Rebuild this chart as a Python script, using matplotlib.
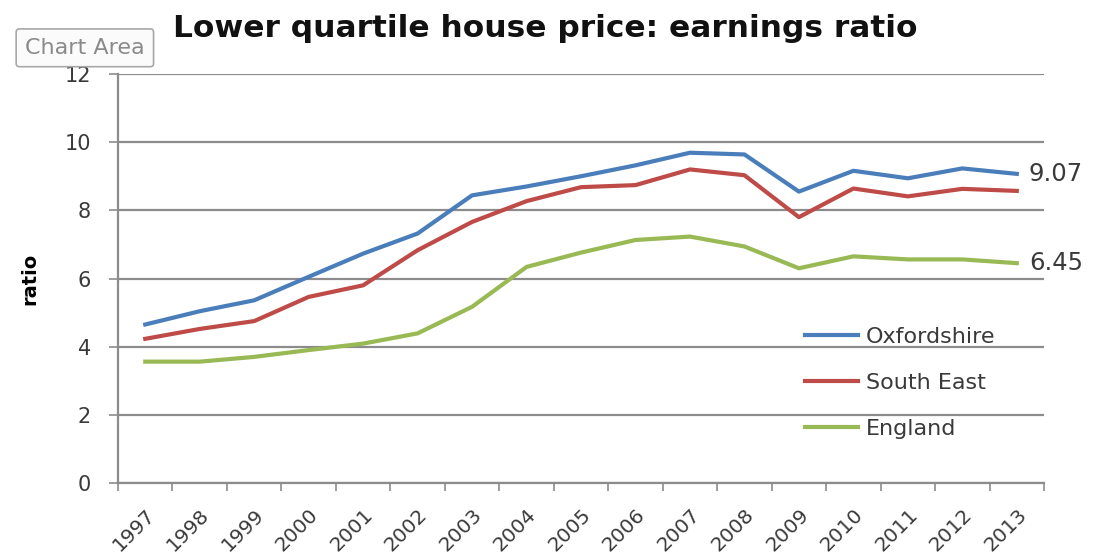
#!/usr/bin/env python3

import numpy as np
import matplotlib
matplotlib.use("Agg")
import matplotlib.pyplot as plt

OUTPUT_FNAME = "out.png"

years = ["1997", "1998", "1999", "2000", "2001", "2002", "2003", "2004", "2005",
         "2006", "2007", "2008", "2009", "2010", "2011", "2012", "2013"]

oxfordshire = [4.65, 5.04, 5.36, 6.05, 6.73, 7.32, 8.44, 8.70, 9.00,
               9.32, 9.69, 9.64, 8.55, 9.16, 8.94, 9.23, 9.07]
south_east = [4.23, 4.52, 4.75, 5.46, 5.80, 6.83, 7.66, 8.27, 8.68,
              8.74, 9.20, 9.03, 7.80, 8.64, 8.41, 8.63, 8.57]
england = [3.56, 3.56, 3.70, 3.90, 4.09, 4.39, 5.17, 6.34, 6.76,
           7.13, 7.23, 6.94, 6.30, 6.65, 6.56, 6.56, 6.45]

series_names = ["Oxfordshire", "South East", "England"]
end_labels = ["9.07", "6.45"]

colors = ["#4a7ebb", "#be4b48", "#98b954"]
grid_color = "#8c8c8c"
text_color = "#3a3a3a"
font = ["DejaVu Sans"]


def plot():
    plt.rcParams["font.family"] = font

    fig = plt.figure(figsize=(11.02, 5.56), dpi=100)
    ax = fig.add_axes([0.1071, 0.1313, 0.8403, 0.7356])

    x = np.arange(len(years))
    for name, ys, color in zip(series_names, [oxfordshire, south_east, england], colors):
        ax.plot(x, ys, color=color, lw=3, label=name, solid_joinstyle="round")

    ax.set_xlim(-0.5, len(years) - 0.5)
    ax.set_ylim(0, 12)

    ax.set_yticks(np.arange(0, 13, 2))
    ax.yaxis.grid(True, color=grid_color, lw=1.6)
    ax.set_axisbelow(True)
    ax.tick_params(axis="y", length=6.5, width=1.2, color=grid_color,
                   labelsize=15, labelcolor=text_color, pad=13)

    ax.set_xticks(np.arange(-0.5, len(years), 1.0))
    ax.set_xticklabels([])
    ax.set_xticks(x, minor=True)
    ax.set_xticklabels(years, minor=True, rotation=45, ha="right",
                       rotation_mode="anchor", fontsize=14.5, color=text_color)
    ax.tick_params(axis="x", which="major", length=6, width=1.2, color=grid_color)
    ax.tick_params(axis="x", which="minor", length=0, pad=16)

    for side in ["top", "right"]:
        ax.spines[side].set_visible(False)
    for side in ["left", "bottom"]:
        ax.spines[side].set_color(grid_color)
        ax.spines[side].set_linewidth(1.6)

    ax.set_ylabel("ratio", fontsize=14, fontweight="bold", labelpad=18)

    ax.text(len(years) - 1 + 0.22, oxfordshire[-1], end_labels[0],
            fontsize=17.5, color=text_color, va="center", ha="left", clip_on=False)
    ax.text(len(years) - 1 + 0.22, england[-1], end_labels[1],
            fontsize=17.5, color=text_color, va="center", ha="left", clip_on=False)

    ax.legend(loc="upper left", bbox_to_anchor=(0.72, 0.43), frameon=False,
              fontsize=16, handlelength=2.4, labelspacing=1.17,
              handletextpad=0.35, labelcolor=text_color)

    fig.text(0.495, 0.948, "Lower quartile house price: earnings ratio",
             fontsize=22.5, fontweight="bold", ha="center", va="center", color="#111111")

    # the "Chart Area" tooltip box from the screenshot
    fig.text(0.077, 0.914, "Chart Area", fontsize=16, color="#8a8a8a",
             ha="center", va="center",
             bbox=dict(boxstyle="round,pad=0.4,rounding_size=0.15", fc="#fbfbfb",
                       ec="#a8a8a8", lw=1.2))

    fig.savefig(OUTPUT_FNAME, dpi=100)


def main():
    plot()


if __name__ == "__main__":
    main()
